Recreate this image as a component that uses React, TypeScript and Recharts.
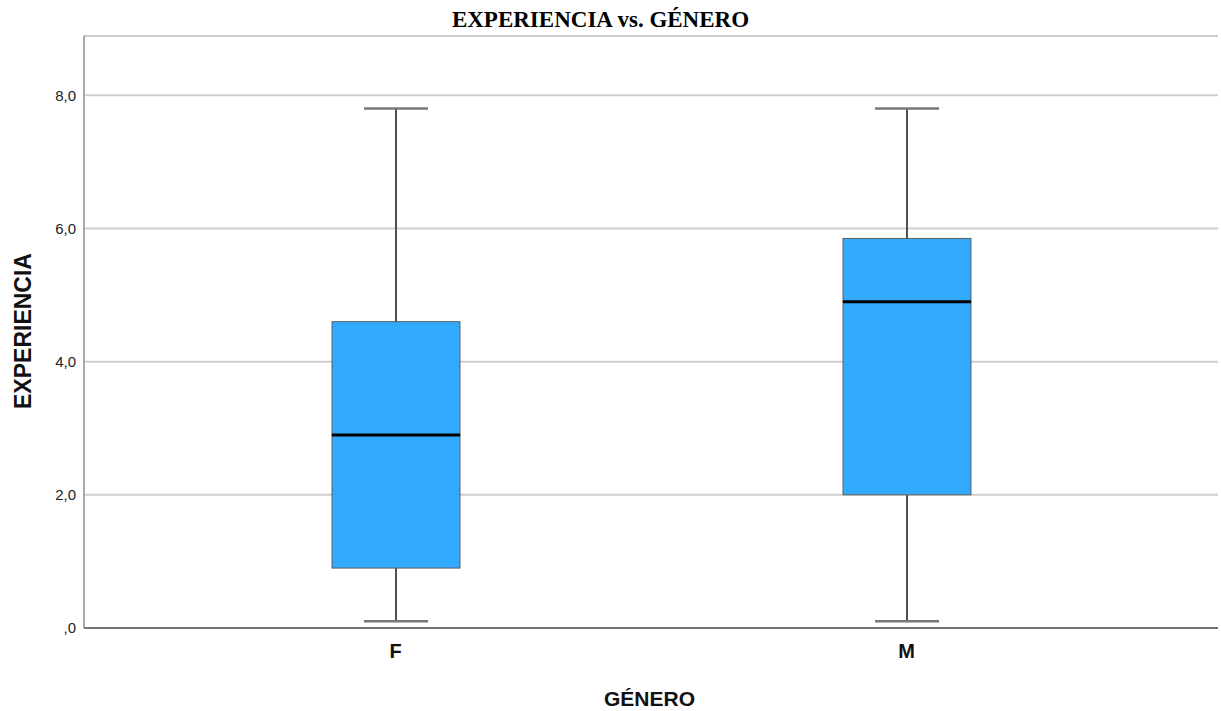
import { BarChart, Bar, XAxis, YAxis, CartesianGrid } from "recharts";

// box plot summary per group
const generos = ["F", "M"];
const minimos = [0.1, 0.1];
const cuartil1 = [0.9, 2.0];
const medianas = [2.9, 4.9];
const cuartil3 = [4.6, 5.85];
const maximos = [7.8, 7.8];
const ticksY = [0, 2, 4, 6, 8];

// stacked segments: invisible base, lower whisker, two box halves, upper whisker
const data = generos.map((g, i) => ({
  genero: g,
  base: minimos[i],
  bigoteInf: cuartil1[i] - minimos[i],
  cajaInf: medianas[i] - cuartil1[i],
  cajaSup: cuartil3[i] - medianas[i],
  bigoteSup: maximos[i] - cuartil3[i],
}));

const AZUL = "#31aafe";
const SANS = "'Liberation Sans', Arial, sans-serif";

const Bigote = (props: any, arriba: boolean) => {
  const { x, y, width, height } = props;
  const cx = x + width / 2;
  const capY = arriba ? y : y + height;
  return (
    <g>
      <line x1={cx} x2={cx} y1={y} y2={y + height} stroke="#505050" strokeWidth={2} />
      <line
        x1={cx - width / 4}
        x2={cx + width / 4}
        y1={capY}
        y2={capY}
        stroke="#777"
        strokeWidth={2.5}
      />
    </g>
  );
};

const Caja = (props: any, mediana: boolean) => {
  const { x, y, width, height } = props;
  return (
    <g>
      <rect x={x} y={y} width={width} height={height} fill={AZUL} stroke="#5f5f5f" strokeWidth={1} />
      {mediana && (
        <line x1={x} x2={x + width} y1={y + height} y2={y + height} stroke="#000" strokeWidth={3} />
      )}
    </g>
  );
};

const fmt = (v: number) => (v === 0 ? ",0" : v.toFixed(1).replace(".", ","));

export default function App() {
  return (
    <div style={{ position: "absolute", left: 0, top: 0, width: 1221, height: 711, background: "#fff" }}>
      <BarChart
        width={1221}
        height={711}
        data={data}
        margin={{ top: 36, right: 3, left: 0, bottom: 0 }}
      >
        <CartesianGrid vertical={false} stroke="#cfcfcf" strokeWidth={2} />
        <XAxis
          dataKey="genero"
          height={83}
          padding={{ left: 56, right: 56 }}
          tickLine={false}
          tickMargin={10}
          axisLine={{ stroke: "#555", strokeWidth: 1.5 }}
          tick={{ fontFamily: SANS, fontSize: 20, fontWeight: "bold", fill: "#111" }}
        />
        <YAxis
          width={84}
          domain={[0, 8.89]}
          ticks={ticksY}
          interval={0}
          tickFormatter={fmt}
          tickLine={false}
          axisLine={{ stroke: "#8c8c8c", strokeWidth: 1.5 }}
          tick={{ fontFamily: SANS, fontSize: 15, fill: "#222" }}
        />
        <Bar dataKey="base" stackId="b" barSize={128} shape={() => <g />} isAnimationActive={false} />
        <Bar dataKey="bigoteInf" stackId="b" barSize={128} shape={(p: any) => Bigote(p, false)} isAnimationActive={false} />
        <Bar dataKey="cajaInf" stackId="b" barSize={128} shape={(p: any) => Caja(p, false)} isAnimationActive={false} />
        <Bar dataKey="cajaSup" stackId="b" barSize={128} shape={(p: any) => Caja(p, true)} isAnimationActive={false} />
        <Bar dataKey="bigoteSup" stackId="b" barSize={128} shape={(p: any) => Bigote(p, true)} isAnimationActive={false} />
      </BarChart>
      <svg
        width={1221}
        height={711}
        style={{ position: "absolute", left: 0, top: 0, pointerEvents: "none" }}
      >
        <text
          x={600.5}
          y={27}
          textAnchor="middle"
          fontFamily="'Liberation Serif', 'Times New Roman', serif"
          fontWeight="bold"
          fontSize={23}
          fill="#000"
        >
          EXPERIENCIA vs. GÉNERO
        </text>
        <text x={649.5} y={706} textAnchor="middle" fontFamily={SANS} fontWeight="bold" fontSize={21} fill="#111">
          GÉNERO
        </text>
        <text
          transform="translate(31, 331) rotate(-90)"
          textAnchor="middle"
          fontFamily={SANS}
          fontWeight="bold"
          fontSize={23}
          fill="#111"
        >
          EXPERIENCIA
        </text>
      </svg>
    </div>
  );
}
